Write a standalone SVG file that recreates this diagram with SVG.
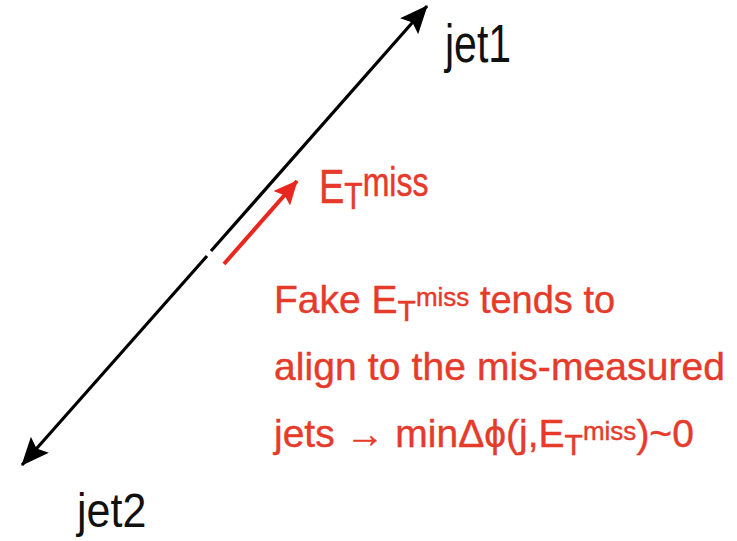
<svg xmlns="http://www.w3.org/2000/svg" width="737" height="541" viewBox="0 0 737 541">
  <style>
    .lbl { font-family: "Liberation Sans", Arial, Helvetica, sans-serif; }
    .blk { fill: #111111; }
    .red { fill: #e63a2b; stroke: #e63a2b; stroke-width: 0.4; }
    .jetline { stroke: #000000; stroke-width: 3.2; fill: none; }
    .metline { stroke: #e8281e; stroke-width: 4; fill: none; }
  </style>
  <defs>
    <marker id="headBlack" viewBox="0 0 28 24" refX="27" refY="12" markerWidth="28" markerHeight="24" markerUnits="userSpaceOnUse" orient="auto">
      <path d="M0,0 L28,12 L0,24 L5,12 Z" fill="#000000"/>
    </marker>
    <marker id="headRed" viewBox="0 0 24 22" refX="23" refY="11" markerWidth="24" markerHeight="22" markerUnits="userSpaceOnUse" orient="auto">
      <path d="M0,0 L24,11 L0,22 L4,11 Z" fill="#e8281e"/>
    </marker>
  </defs>

  <g id="connectors">
    <line class="jetline" x1="207" y1="256" x2="22" y2="465" marker-end="url(#headBlack)"/>
    <line class="jetline" x1="211" y1="251" x2="427" y2="6" marker-end="url(#headBlack)"/>
    <line class="metline" x1="224" y1="264" x2="297" y2="181" marker-end="url(#headRed)"/>
  </g>

  <g id="jet1">
    <text class="lbl blk" transform="translate(445,62) scale(1,1.3)" font-size="41">jet1</text>
  </g>
  <g id="jet2">
    <text class="lbl blk" transform="translate(77,527) scale(1,1.12)" font-size="43">jet2</text>
  </g>
  <g id="met">
    <text class="lbl red" transform="translate(319,203) scale(1,1.25)" font-size="38">E<tspan font-size="30" dy="5">T</tspan><tspan font-size="32" dy="-11">miss</tspan></text>
  </g>
  <g id="note">
    <text class="lbl red" x="274" y="313" font-size="39">Fake E<tspan font-size="30" dy="8">T</tspan><tspan font-size="26" dy="-15">miss</tspan><tspan dy="7" font-size="38"> tends to</tspan></text>
    <text class="lbl red" x="274" y="380" font-size="39" textLength="451">align to the mis-measured</text>
    <text class="lbl red" x="274" y="447" font-size="39">jets → minΔϕ(j,E<tspan font-size="30" dy="8">T</tspan><tspan font-size="26" dy="-15">miss</tspan><tspan dy="7">)~0</tspan></text>
  </g>
</svg>
